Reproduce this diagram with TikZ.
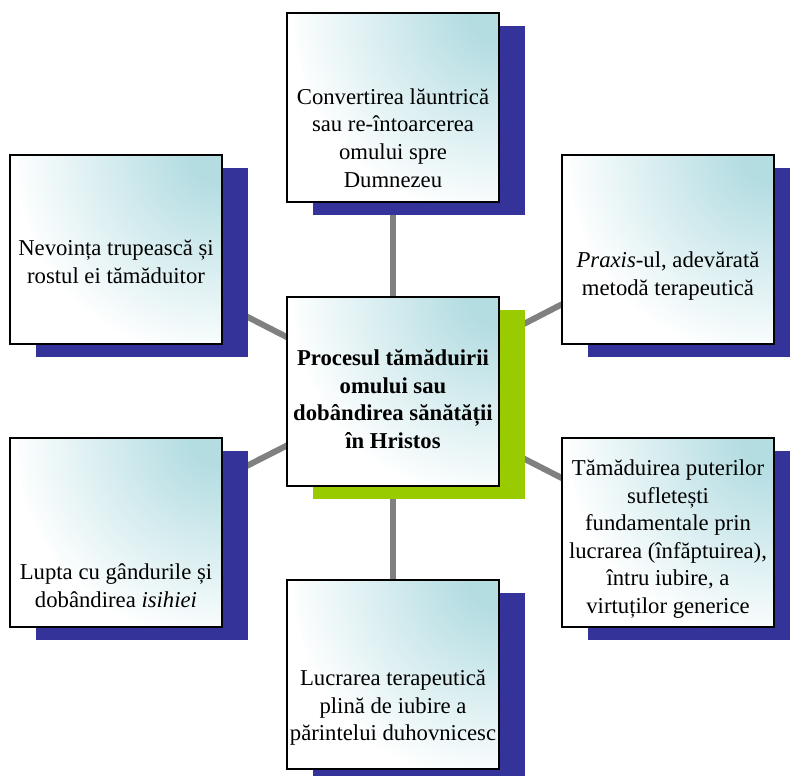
\documentclass[tikz,border=0pt]{standalone}
\usepackage{fontspec}
\setmainfont{Liberation Serif}
\usetikzlibrary{shadows}
\definecolor{navyc}{RGB}{51,51,153}
\definecolor{greenc}{RGB}{153,204,0}
\definecolor{tealc}{RGB}{180,221,226}
\definecolor{linec}{RGB}{128,128,128}
\pgfdeclarelayer{bg}
\pgfsetlayers{bg,main}
\pgfdeclareradialshading{boxshade}{\pgfpoint{0bp}{0bp}}{color(0bp)=(tealc); color(3.5bp)=(tealc); color(25bp)=(white); color(50bp)=(white)}
\begin{document}
\begin{tikzpicture}[x=1pt,y=-1pt,
  basebox/.style={draw=black, line width=1.6pt, minimum width=212pt, minimum height=189pt, inner sep=0pt, fill=white,
    path picture={\shade[shading=boxshade] (path picture bounding box.north east) circle (205pt);}},
  box/.style={basebox, drop shadow={shadow xshift=26pt, shadow yshift=-13pt, fill=navyc, opacity=1, draw=none}},
  hub/.style={basebox, drop shadow={shadow xshift=26pt, shadow yshift=-13pt, fill=greenc, opacity=1, draw=none}},
  txt/.style={align=center, font=\fontsize{22.7}{27.6}\selectfont, inner sep=0pt},
  conn/.style={draw=linec, line width=6pt}]
\path[use as bounding box] (0,0) rectangle (790,776);
\clip (0,0) rectangle (790,776);
\node[box] (top) at (393,107.5) {};
\node[box] (ul) at (116,249.5) {};
\node[box] (ur) at (668,249.5) {};
\node[box] (ll) at (116,532.5) {};
\node[box] (lr) at (668,532.5) {};
\node[box] (bt) at (393,674.5) {};
\node[hub] (c) at (393,391.5) {};
\begin{pgfonlayer}{bg}
\draw[conn] (c.center) -- (top.center);
\draw[conn] (c.center) -- (ul.center);
\draw[conn] (c.center) -- (ur.center);
\draw[conn] (c.center) -- (ll.center);
\draw[conn] (c.center) -- (lr.center);
\draw[conn] (c.center) -- (bt.center);
\end{pgfonlayer}
\node[txt] (ttop) at (393,138) {Convertirea lăuntrică\\sau re-întoarcerea\\omului spre\\Dumnezeu};
\node[txt] (tul) at (116,262) {Nevoința trupească și\\rostul ei tămăduitor};
\node[txt] (tur) at (668,276) {\textit{Praxis}-ul, adevărată\\metodă terapeutică};
\node[txt, font=\fontsize{22.7}{27.6}\selectfont\bfseries] (tc) at (393,399) {Procesul tămăduirii\\omului sau\\dobândirea sănătății\\în Hristos};
\node[txt] (tll) at (116,586) {Lupta cu gândurile și\\dobândirea \textit{isihiei}};
\node[txt] (tlr) at (668,539) {Tămăduirea puterilor\\sufletești\\fundamentale prin\\lucrarea (înfăptuirea),\\întru iubire, a\\virtuților generice};
\node[txt] (tbt) at (393,708) {Lucrarea terapeutică\\plină de iubire a\\părintelui duhovnicesc};
\end{tikzpicture}
\end{document}
